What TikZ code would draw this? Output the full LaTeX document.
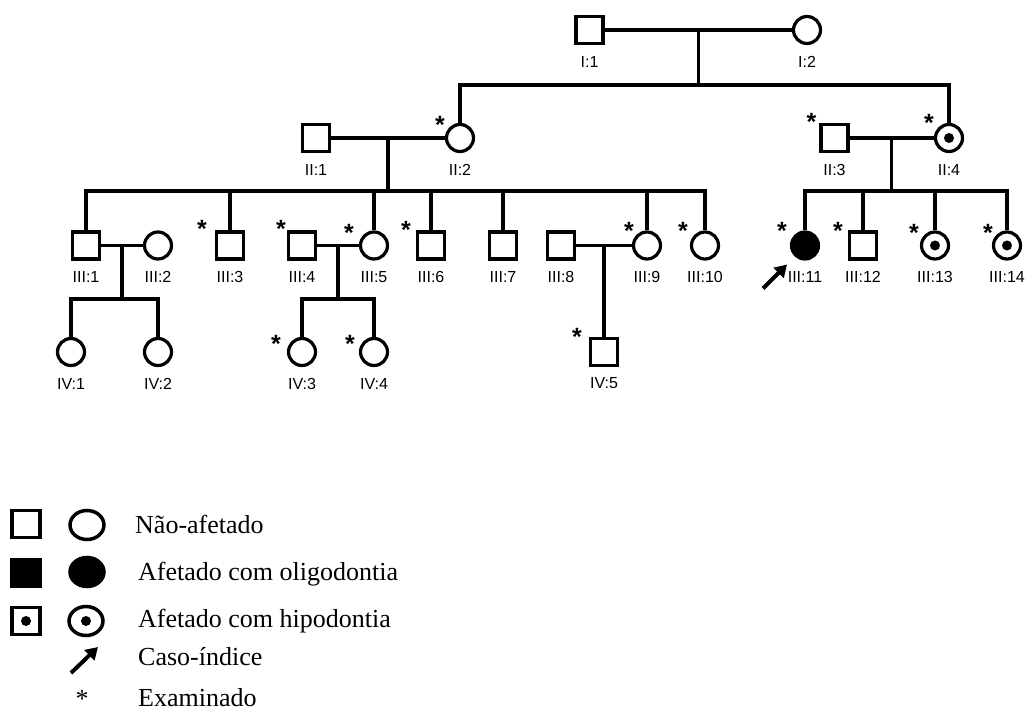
\documentclass[tikz,border=0pt]{standalone}
\usepackage{fontspec}
\setmainfont{Liberation Serif}
\setsansfont{Liberation Sans}
\usetikzlibrary{arrows.meta,calc,shapes.geometric}
\tikzset{
  male/.style={draw, rectangle, minimum size=27pt, inner sep=0pt, line width=3.2pt},
  female/.style={draw, circle, minimum size=27pt, inner sep=0pt, line width=3.2pt},
  affected/.style={fill=black},
  hipo/.style={path picture={\fill (path picture bounding box.center) circle (5pt);}},
  lab/.style={font=\sffamily\fontsize{16}{16}\selectfont, inner sep=0pt},
  ex/.style={font=\sffamily\bfseries\fontsize{25}{25}\selectfont, inner sep=0pt, anchor=base, yshift=-14.5pt},
  link/.style={line width=3.2pt},
  proband/.style={line width=4pt, -{Triangle[length=12pt,width=14pt]}},
  keysq/.style={draw, rectangle, minimum width=28pt, minimum height=27pt, inner sep=0pt, line width=3.5pt},
  keyci/.style={draw, ellipse, minimum width=34pt, minimum height=29pt, inner sep=0pt, line width=3.5pt},
  keytxt/.style={font=\fontsize{26}{26}\selectfont, inner sep=0pt, anchor=base west},
}
\begin{document}
\begin{tikzpicture}[x=1pt,y=-1pt]
\useasboundingbox (0,0) rectangle (1027,711);

% ---- generation I
\node[male]   (I1) at (589.5,30) {};
\node[female] (I2) at (807,30) {};

% ---- generation II
\node[male]        (II1) at (316,138) {};
\node[female]      (II2) at (460,138) {};
\node[male]        (II3) at (834.5,138) {};
\node[female,hipo] (II4) at (949,138) {};

% ---- generation III
\node[male]   (III1)  at (86,245.5) {};
\node[female] (III2)  at (158,245.5) {};
\node[male]   (III3)  at (230,245.5) {};
\node[male]   (III4)  at (302,245.5) {};
\node[female] (III5)  at (374,245.5) {};
\node[male]   (III6)  at (431,245.5) {};
\node[male]   (III7)  at (503,245.5) {};
\node[male]   (III8)  at (561,245.5) {};
\node[female] (III9)  at (647,245.5) {};
\node[female] (III10) at (705,245.5) {};
\node[female,affected] (III11) at (805,245.5) {};
\node[male]   (III12) at (863,245.5) {};
\node[female,hipo] (III13) at (935,245.5) {};
\node[female,hipo] (III14) at (1007,245.5) {};

% ---- generation IV
\node[female] (IV1) at (71,352) {};
\node[female] (IV2) at (158,352) {};
\node[female] (IV3) at (302,352) {};
\node[female] (IV4) at (374,352) {};
\node[male]   (IV5) at (604,352) {};

% ---- individual labels
\foreach \n/\t in {I1/I:1, I2/I:2, II1/II:1, II2/II:2, II3/II:3, II4/II:4,
  III1/III:1, III2/III:2, III3/III:3, III4/III:4, III5/III:5, III6/III:6,
  III7/III:7, III8/III:8, III9/III:9, III10/III:10, III11/III:11,
  III12/III:12, III13/III:13, III14/III:14,
  IV1/IV:1, IV2/IV:2, IV3/IV:3, IV4/IV:4, IV5/IV:5}
  \node[lab] (l\n) at ($(\n)+(0,31.5)$) {\t};

% ---- examined individuals
\foreach \n/\dx/\dy in {II2/-20/-19, II3/-23/-22, II4/-20/-21,
  III3/-28/-22, III4/-21/-23, III5/-25/-19, III6/-25/-21,
  III9/-18/-20, III10/-22/-20, III11/-23/-20, III12/-25/-20,
  III13/-21/-18, III14/-19/-18, IV3/-26/-14, IV4/-24/-14, IV5/-27/-21}
  \node[ex] (e\n) at ($(\n)+(\dx,\dy)$) {*};

% ---- couple I:1 x I:2
\draw[link] (I1) -- (I2);
\coordinate (mI) at ($(I1)!0.5!(I2)$);
\coordinate (sI) at (mI |- 0,85);
\draw[link] (mI) -- (sI);
\draw[link] (II2.north) |- (sI) -| (II4.north);

% ---- couple II:1 x II:2
\draw[link] (II1) -- (II2);
\coordinate (mIIa) at ($(II1)!0.5!(II2)$);
\coordinate (sIIa) at (mIIa |- 0,191);
\draw[link] (mIIa) -- (sIIa);
\draw[link] (III1.north) |- (sIIa) -| (III10.north);
\foreach \n in {III3,III5,III6,III7,III9}
  \draw[link] (\n.north) -- (\n.north |- sIIa);

% ---- couple II:3 x II:4
\draw[link] (II3) -- (II4);
\coordinate (mIIb) at ($(II3)!0.5!(II4)$);
\coordinate (sIIb) at (mIIb |- 0,191);
\draw[link] (mIIb) -- (sIIb);
\draw[link] (III11.north) |- (sIIb) -| (III14.north);
\foreach \n in {III12,III13}
  \draw[link] (\n.north) -- (\n.north |- sIIb);

% ---- couple III:1 x III:2
\draw[link] (III1) -- (III2);
\coordinate (mIIIa) at ($(III1)!0.5!(III2)$);
\coordinate (sIIIa) at (mIIIa |- 0,299);
\draw[link] (mIIIa) -- (sIIIa);
\draw[link] (IV1.north) |- (sIIIa) -| (IV2.north);

% ---- couple III:4 x III:5
\draw[link] (III4) -- (III5);
\coordinate (mIIIb) at ($(III4)!0.5!(III5)$);
\coordinate (sIIIb) at (mIIIb |- 0,299);
\draw[link] (mIIIb) -- (sIIIb);
\draw[link] (IV3.north) |- (sIIIb) -| (IV4.north);

% ---- couple III:8 x III:9
\draw[link] (III8) -- (III9);
\coordinate (mIIIc) at ($(III8)!0.5!(III9)$);
\draw[link] (mIIIc) -- (IV5.north);

% ---- proband arrow
\coordinate (pa) at ($(III11)+(-18,19)$);
\coordinate (pb) at ($(III11)+(-42,43)$);
\draw[proband] (pb) -- (pa);

% ---- key
\node[keysq] (k1s) at (26,524) {};
\node[keyci] (k1c) at (87,525) {};
\node[keysq, fill=black] (k2s) at (26,573) {};
\node[keyci, fill=black] (k2c) at (87,572) {};
\node[keysq, hipo] (k3s) at (26,621) {};
\node[keyci, hipo] (k3c) at (86,621) {};
\coordinate (ka) at (98,647);
\coordinate (kb) at (71,673);
\draw[proband] (kb) -- (ka);
\node[font=\fontsize{26}{26}\selectfont, inner sep=0pt, anchor=base] (kx) at (82,707) {*};

\node[keytxt] (t1) at (135,533) {Não-afetado};
\node[keytxt] (t2) at (138,580) {Afetado com oligodontia};
\node[keytxt] (t3) at (138,627) {Afetado com hipodontia};
\node[keytxt] (t4) at (138,665) {Caso-índice};
\node[keytxt] (t5) at (138,706) {Examinado};
\end{tikzpicture}
\end{document}
